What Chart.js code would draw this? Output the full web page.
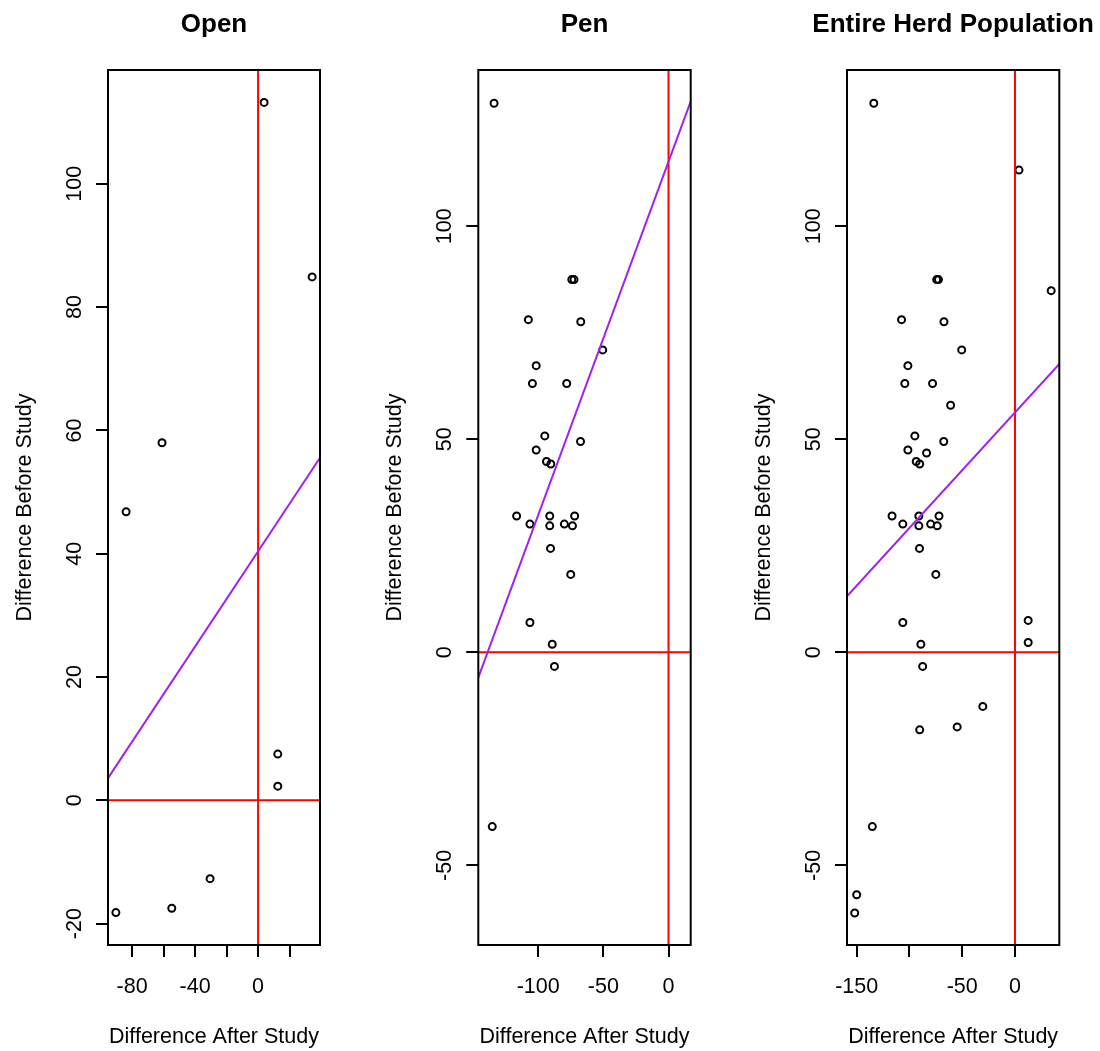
<!DOCTYPE html>
<html><head><meta charset="utf-8">
<script src="https://cdn.jsdelivr.net/npm/chart.js@4"></script>
<style>
body{margin:0;background:#fff;width:1100px;height:1051px;position:relative;overflow:hidden}
canvas{position:absolute;top:0}
</style>
</head><body>
<canvas id="c0" width="367" height="1051" style="left:0px"></canvas>
<canvas id="c1" width="367" height="1051" style="left:367px"></canvas>
<canvas id="c2" width="366" height="1051" style="left:734px"></canvas>
<script>
// ---- Text ----
const panelTitles = ["Open", "Pen", "Entire Herd Population"];
const xAxisTitle = "Difference After Study";
const yAxisTitle = "Difference Before Study";

// ---- Data: Open pens ----
const openX = [3.8, 34.3, -61.0, -83.8, 12.5, 12.5, -30.5, -54.8, -90.3];
const openY = [113.2, 84.9, 58.0, 46.8, 7.5, 2.3, -12.7, -17.5, -18.2];

// ---- Data: Pen ----
const penX = [-133.8, -74.2, -72.5, -107.5, -67.3, -50.5, -101.5, -104.4, -78.1, -94.9, -67.5, -101.5, -93.6, -90.3,
              -116.5, -106.3, -91.1, -91.1, -79.9, -73.7, -72.0, -90.5, -75.0, -106.3, -89.2, -87.5, -135.2];
const penY = [128.9, 87.5, 87.5, 78.1, 77.6, 71.0, 67.3, 63.1, 63.1, 50.8, 49.5, 47.5, 44.8, 44.2,
              32.0, 30.1, 32.0, 29.7, 30.1, 29.7, 32.0, 24.4, 18.3, 7.0, 1.9, -3.3, -40.9];

// ---- Data: animals only in the entire herd ----
const extraX = [-150.0, -151.9];
const extraY = [-56.9, -61.2];

// ---- Fitted lines (intercept, slope) ----
const fitIntercept = [40.4, 115.2, 56.3];
const fitSlope = [0.386, 0.83, 0.271];

// ---- Axis limits ----
const xLimits = [[-95.3, 39.3], [-145.9, 17.0], [-159.2, 42.0]];
const yLimits = [[-23.46, 118.46], [-68.7, 136.7], [-68.7, 136.7]];

// ---- Ticks ----
const xTickValues = [[-80, -60, -40, -20, 0, 20], [-100, -50, 0], [-150, -100, -50, 0]];
const xTickLabels = [["-80", "", "-40", "", "0", ""], ["-100", "-50", "0"], ["-150", "", "-50", "0"]];
const yTickValues = [[-20, 0, 20, 40, 60, 80, 100], [-50, 0, 50, 100], [-50, 0, 50, 100]];
const yTickLabels = [["-20", "0", "20", "40", "60", "80", "100"], ["-50", "0", "50", "100"], ["-50", "0", "50", "100"]];

const herdX = openX.concat(penX, extraX);
const herdY = openY.concat(penY, extraY);
const panelX = [openX, penX, herdX];
const panelY = [openY, penY, herdY];

// ---- Layout (pixels) ----
const canvasLefts = [0, 367, 734];
const canvasWidths = [367, 367, 366];
const plotLeft = [108, 478.3, 847];
const plotRight = [320, 690.7, 1059.3];
const plotTop = 70, plotBottom = 945, H = 1051;
const FONT = '"Liberation Sans", Arial, sans-serif';
const fs = 21.5;

function pts(xs, ys) { return xs.map((x, i) => ({x: x, y: ys[i]})); }

const boxPlugin = {
  id: 'rbox',
  afterDraw(chart) {
    const p = chart.options.plugins.rbox;
    const ctx = chart.ctx, a = chart.chartArea;
    const xs = chart.scales.x, ys = chart.scales.y;
    ctx.save();
    ctx.strokeStyle = '#000';
    ctx.lineWidth = 2;
    ctx.strokeRect(a.left, a.top, a.right - a.left, a.bottom - a.top);
    ctx.fillStyle = '#000';
    // main title
    ctx.font = 'bold 26px ' + FONT;
    ctx.textAlign = 'center';
    ctx.textBaseline = 'alphabetic';
    ctx.fillText(p.title, (a.left + a.right) / 2, 32);
    // x tick labels
    ctx.font = fs + 'px ' + FONT;
    p.xv.forEach((v, i) => {
      if (p.xl[i]) ctx.fillText(p.xl[i], xs.getPixelForValue(v), 993.3);
    });
    // x axis title
    ctx.fillText(xAxisTitle, (a.left + a.right) / 2, 1042.7);
    // y tick labels (rotated)
    p.yv.forEach((v, i) => {
      if (!p.yl[i]) return;
      ctx.save();
      ctx.translate(a.left - 27.3, ys.getPixelForValue(v));
      ctx.rotate(-Math.PI / 2);
      ctx.fillText(p.yl[i], 0, 0);
      ctx.restore();
    });
    // y axis title
    ctx.save();
    ctx.translate(a.left - 77, (a.top + a.bottom) / 2);
    ctx.rotate(-Math.PI / 2);
    ctx.fillText(yAxisTitle, 0, 0);
    ctx.restore();
    ctx.restore();
  }
};

for (let k = 0; k < 3; k++) {
  const xmin = xLimits[k][0], xmax = xLimits[k][1];
  const ymin = yLimits[k][0], ymax = yLimits[k][1];
  const a = fitIntercept[k], b = fitSlope[k];
  const ctx = document.getElementById('c' + k).getContext('2d');
  const yw = plotLeft[k] - canvasLefts[k];
  const pr = canvasLefts[k] + canvasWidths[k] - plotRight[k];
  const xv = xTickValues[k], yv = yTickValues[k];
  new Chart(ctx, {
    type: 'scatter',
    data: {
      datasets: [
        {
          data: pts(panelX[k], panelY[k]),
          pointStyle: 'circle', pointRadius: 3.5, pointHoverRadius: 3.5,
          borderColor: '#000', backgroundColor: 'rgba(0,0,0,0)', borderWidth: 2,
          order: 2
        },
        {
          type: 'line', data: [{x: 0, y: ymin - 10}, {x: 0, y: ymax + 10}],
          borderColor: '#FF0000', borderWidth: 2, pointRadius: 0, showLine: true, order: 1
        },
        {
          type: 'line', data: [{x: xmin - 10, y: 0}, {x: xmax + 10, y: 0}],
          borderColor: '#FF0000', borderWidth: 2, pointRadius: 0, showLine: true, order: 1
        },
        {
          type: 'line', data: [{x: xmin - 10, y: a + b * (xmin - 10)}, {x: xmax + 10, y: a + b * (xmax + 10)}],
          borderColor: '#A020F0', borderWidth: 2, pointRadius: 0, showLine: true, order: 0
        }
      ]
    },
    options: {
      responsive: false, animation: false, devicePixelRatio: 1,
      layout: {padding: {left: 0, right: pr, top: plotTop, bottom: 0}},
      plugins: {
        legend: {display: false}, tooltip: {enabled: false}, title: {display: false},
        rbox: {title: panelTitles[k], xv: xv, xl: xTickLabels[k], yv: yv, yl: yTickLabels[k]}
      },
      scales: {
        x: {
          type: 'linear', min: xmin, max: xmax,
          afterBuildTicks: s => { s.ticks = xv.map(v => ({value: v})); },
          afterFit: s => { s.height = H - plotBottom; },
          ticks: {display: false},
          grid: {display: true, drawOnChartArea: false, drawTicks: true, tickLength: 12, color: '#000', lineWidth: 2},
          border: {display: false}
        },
        y: {
          type: 'linear', min: ymin, max: ymax,
          afterBuildTicks: s => { s.ticks = yv.map(v => ({value: v})); },
          afterFit: s => { s.width = yw; },
          ticks: {display: false},
          grid: {display: true, drawOnChartArea: false, drawTicks: true, tickLength: 12, color: '#000', lineWidth: 2},
          border: {display: false}
        }
      }
    },
    plugins: [boxPlugin]
  });
}
</script>
</body></html>
